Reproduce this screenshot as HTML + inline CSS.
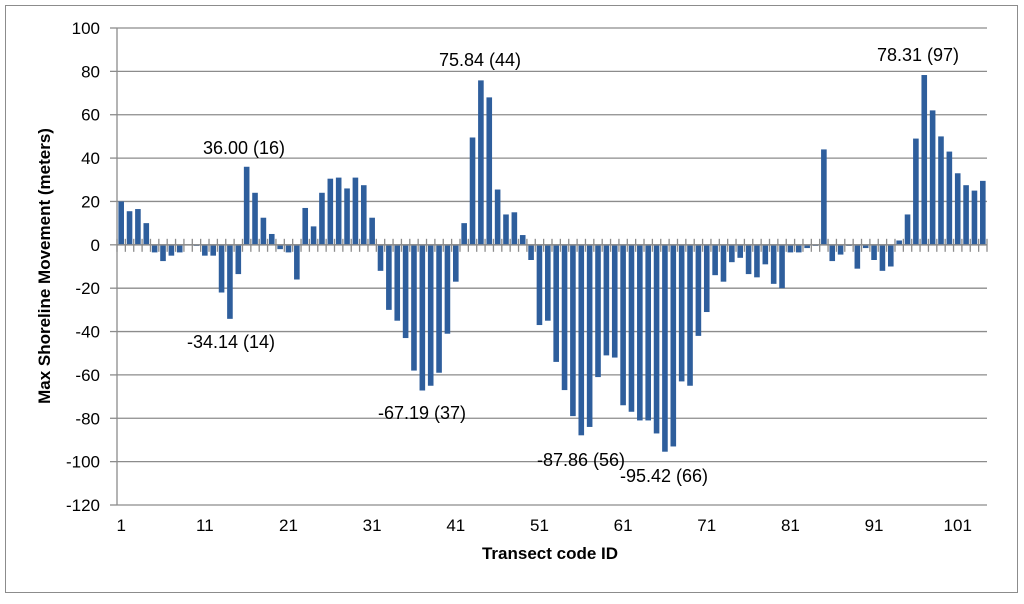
<!DOCTYPE html>
<html><head><meta charset="utf-8"><style>
body{margin:0;background:#fff;}
svg text{font-family:"Liberation Sans",sans-serif;}
</style></head><body>
<svg id="chart" width="1024" height="599" xmlns="http://www.w3.org/2000/svg">
<rect x="5.5" y="5.5" width="1012" height="587" fill="#fff" stroke="#8c8c8c"/>
<g id="grid"></g><g id="bars"></g><g id="axes"></g>
<text transform="translate(50,266) rotate(-90)" text-anchor="middle" font-size="17" font-weight="bold">Max Shoreline Movement (meters)</text>
<text x="550" y="559" text-anchor="middle" font-size="17" font-weight="bold">Transect code ID</text>
<g font-size="18" fill="#000">
<text x="244" y="154" text-anchor="middle">36.00 (16)</text>
<text x="231" y="348" text-anchor="middle">-34.14 (14)</text>
<text x="480" y="66" text-anchor="middle">75.84 (44)</text>
<text x="422" y="419" text-anchor="middle">-67.19 (37)</text>
<text x="581" y="466" text-anchor="middle">-87.86 (56)</text>
<text x="664" y="482" text-anchor="middle">-95.42 (66)</text>
<text x="918" y="61" text-anchor="middle">78.31 (97)</text>
</g>
</svg>
<script>
const values=[20,15.5,16.5,10,-3.5,-7.5,-5,-3.5,0,-0.5,-5,-5,-22,-34.14,-13.5,36,24,12.5,5,-2,-3.5,-16,17,8.5,24,30.5,31,26,31,27.5,12.5,-12,-30,-35,-43,-58,-67.19,-65,-59,-41,-17,10,49.5,75.84,68,25.5,14,15,4.5,-7,-37,-35,-54,-67,-79,-87.86,-84,-61,-51,-52,-74,-77,-81,-81,-87,-95.42,-93,-63,-65,-42,-31,-14,-17,-8,-6,-13.5,-15,-9,-18,-20,-3.5,-3.5,-1.5,-0.5,44,-7.5,-4.5,-0.5,-11,-1.5,-7,-12,-10,2,14,49,78.31,62,50,43,33,27.5,25,29.5];
const yTicks=[100,80,60,40,20,0,-20,-40,-60,-80,-100,-120];
const xTickLabels=[1,11,21,31,41,51,61,71,81,91,101];
const NS="http://www.w3.org/2000/svg";
const X0=117,X1=987,Y0=28,Y1=505,yMax=100,yMin=-120;
const n=values.length, step=(X1-X0)/n;
const y=v=>Y0+(yMax-v)*(Y1-Y0)/(yMax-yMin);
const xc=i=>X0+(i+0.5)*step;
function mk(t,a,p){const e=document.createElementNS(NS,t);for(const k in a)e.setAttribute(k,a[k]);p.appendChild(e);return e;}
const grid=document.getElementById('grid'),bars=document.getElementById('bars'),axes=document.getElementById('axes');
yTicks.forEach(t=>{
 const g=mk('line',{x1:X0,x2:X1,y1:y(t),y2:y(t),stroke:'#8c8c8c','stroke-width':1.3},grid);
 
 
 mk('line',{x1:X0-7,x2:X0,y1:y(t),y2:y(t),stroke:'#8c8c8c','stroke-width':1.3},axes);
 const l=mk('text',{x:X0-17,y:y(t)+6,'text-anchor':'end','font-size':17},axes);
 l.textContent=t;
 
 
});
mk('line',{x1:X0,x2:X0,y1:Y0,y2:Y1,stroke:'#8c8c8c','stroke-width':1.3},axes);
values.forEach((v,i)=>{
 const r=mk('rect',{x:xc(i)-2.8,width:5.6,y:Math.min(y(v),y(0)),height:Math.abs(y(v)-y(0)),fill:'#2e5e9c'},bars);
 
 
});
mk('line',{x1:X0,x2:X1,y1:y(0),y2:y(0),stroke:'#8c8c8c','stroke-width':1.5},axes);
for(let i=0;i<=n;i++){mk('line',{x1:X0+i*step,x2:X0+i*step,y1:y(0)-6,y2:y(0)+7,stroke:'#8c8c8c','stroke-width':1.3},axes);}
xTickLabels.forEach(c=>{
 const l=mk('text',{x:xc(c-1),y:531,'text-anchor':'middle','font-size':17},axes);
 l.textContent=c;
 
 
});
</script>
</body></html>
